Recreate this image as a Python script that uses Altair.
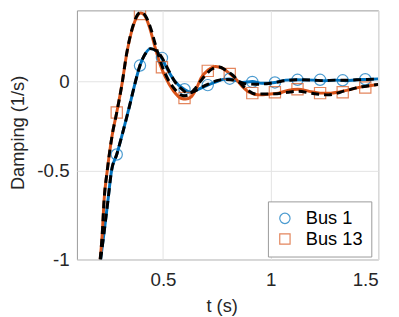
import altair as alt
import pandas as pd

BLUE = "#0072BD"
ORANGE = "#D95319"
FONT = "Liberation Sans"

# Bus 1 (blue) curve
bus1_t = [0.210, 0.226, 0.244, 0.261, 0.285, 0.310, 0.346, 0.370, 0.393, 0.415, 0.442, 0.470,
          0.492, 0.520, 0.550, 0.600, 0.630, 0.660, 0.708, 0.750, 0.780, 0.807, 0.840, 0.870,
          0.915, 0.960, 1.020, 1.070, 1.120, 1.200, 1.250, 1.300, 1.350, 1.400, 1.450, 1.500]
bus1_d = [-1.00, -0.85, -0.67, -0.50, -0.41, -0.30, -0.13, -0.01, 0.09, 0.15, 0.185, 0.17,
          0.135, 0.07, 0.01, -0.045, -0.06, -0.045, -0.02, 0.0, 0.012, 0.015, 0.005, -0.005,
          0.0, -0.01, -0.005, 0.008, 0.01, 0.008, 0.005, 0.008, 0.005, 0.01, 0.012, 0.015]

# Bus 13 (orange) curve
bus13_t = [0.208, 0.218, 0.226, 0.241, 0.264, 0.285, 0.310, 0.330, 0.361, 0.384, 0.397, 0.415,
           0.436, 0.465, 0.488, 0.510, 0.549, 0.586, 0.605, 0.630, 0.655, 0.677, 0.710, 0.744,
           0.775, 0.810, 0.834, 0.870, 0.900, 0.947, 1.000, 1.037, 1.080, 1.127, 1.180, 1.230,
           1.280, 1.320, 1.370, 1.410, 1.450, 1.500]
bus13_d = [-1.00, -0.85, -0.67, -0.50, -0.30, -0.174, -0.01, 0.147, 0.31, 0.375, 0.385, 0.37,
           0.31, 0.185, 0.092, 0.027, -0.053, -0.095, -0.098, -0.087, -0.04, 0.02, 0.065, 0.085,
           0.075, 0.045, 0.02, -0.03, -0.06, -0.075, -0.07, -0.065, -0.05, -0.043, -0.055, -0.065,
           -0.065, -0.058, -0.045, -0.033, -0.025, -0.016]

# Black dashed reference over Bus 1
ref1_t = [0.210, 0.226, 0.244, 0.261, 0.285, 0.310, 0.346, 0.370, 0.393, 0.415, 0.442, 0.470,
          0.495, 0.525, 0.555, 0.590, 0.618, 0.645, 0.675, 0.710, 0.750, 0.785, 0.815, 0.850,
          0.880, 0.930, 0.980, 1.020, 1.070, 1.120, 1.200, 1.250, 1.300, 1.350, 1.400, 1.450, 1.500]
ref1_d = [-1.00, -0.85, -0.67, -0.50, -0.41, -0.30, -0.13, -0.01, 0.09, 0.15, 0.185, 0.172,
          0.135, 0.065, 0.0, -0.045, -0.065, -0.055, -0.035, -0.015, 0.005, 0.012, 0.01, 0.0,
          -0.012, -0.015, -0.012, -0.005, 0.005, 0.01, 0.008, 0.005, 0.008, 0.007, 0.01, 0.012, 0.015]

# Black dashed reference over Bus 13
ref13_t = [0.208, 0.218, 0.226, 0.241, 0.264, 0.285, 0.310, 0.330, 0.361, 0.384, 0.398, 0.417,
           0.440, 0.470, 0.495, 0.520, 0.560, 0.595, 0.618, 0.645, 0.670, 0.700, 0.730, 0.762,
           0.790, 0.825, 0.860, 0.890, 0.933, 0.980, 1.030, 1.080, 1.130, 1.186, 1.230, 1.270,
           1.310, 1.340, 1.370, 1.406, 1.450, 1.500]
ref13_d = [-1.00, -0.85, -0.67, -0.50, -0.30, -0.174, -0.01, 0.15, 0.315, 0.38, 0.39, 0.372,
           0.31, 0.185, 0.09, 0.02, -0.05, -0.08, -0.075, -0.045, -0.005, 0.04, 0.072, 0.082,
           0.065, 0.035, -0.01, -0.045, -0.07, -0.07, -0.068, -0.06, -0.055, -0.065, -0.072, -0.075,
           -0.065, -0.054, -0.045, -0.033, -0.025, -0.016]

# Markers
mk_t = [0.285, 0.393, 0.495, 0.600, 0.708, 0.810, 0.915, 1.020, 1.125, 1.230, 1.335, 1.440]
mk1_d = [-0.41, 0.09, 0.133, -0.043, -0.02, 0.016, -0.002, -0.005, 0.01, 0.01, 0.007, 0.013]
mk13_d = [-0.174, 0.38, 0.08, -0.092, 0.06, 0.043, -0.065, -0.06, -0.043, -0.065, -0.06, -0.033]

series_names = ["Bus 1", "Bus 13"]


def frame(t, d, name):
    return pd.DataFrame({"t": t, "d": d, "series": name})


df_b1 = frame(bus1_t, bus1_d, "Bus 1")
df_b13 = frame(bus13_t, bus13_d, "Bus 13")
df_r1 = frame(ref1_t, ref1_d, "ref 1")
df_r13 = frame(ref13_t, ref13_d, "ref 13")
df_mk = pd.concat([frame(mk_t, mk1_d, "Bus 1"), frame(mk_t, mk13_d, "Bus 13")])

x = alt.X("t:Q", scale=alt.Scale(domain=[0.1, 1.5], nice=False, zero=False),
          axis=alt.Axis(values=[0.5, 1, 1.5], title="t (s)", labelExpr="'' + datum.value",
                        labelPadding=11, titlePadding=8, titleX=147))
y = alt.Y("d:Q", scale=alt.Scale(domain=[-1, 0.4], nice=False, zero=False),
          axis=alt.Axis(values=[-1, -0.5, 0], title="Damping (1/s)", labelExpr="'' + datum.value",
                        labelPadding=8, titleX=-50, titleY=124))

line_b1 = alt.Chart(df_b1).mark_line(color=BLUE, strokeWidth=3, interpolate="monotone", clip=True).encode(x=x, y=y)
line_b13 = alt.Chart(df_b13).mark_line(color=ORANGE, strokeWidth=3, interpolate="monotone", clip=True).encode(x=x, y=y)
line_r1 = alt.Chart(df_r1).mark_line(color="black", strokeWidth=3, strokeDash=[8, 5],
                                     interpolate="monotone", clip=True).encode(x=x, y=y)
line_r13 = alt.Chart(df_r13).mark_line(color="black", strokeWidth=3, strokeDash=[8, 5],
                                       interpolate="monotone", clip=True).encode(x=x, y=y)

pts = alt.Chart(df_mk).mark_point(filled=False, size=130, strokeWidth=1.2, clip=True).encode(
    x=x, y=y,
    color=alt.Color("series:N", scale=alt.Scale(domain=series_names, range=[BLUE, ORANGE]),
                    legend=alt.Legend(title=None)),
    shape=alt.Shape("series:N", scale=alt.Scale(domain=series_names, range=["circle", "square"]),
                    legend=alt.Legend(title=None)),
)

chart = alt.layer(line_b1, line_b13, pts, line_r1, line_r13).properties(
    width=306, height=253, autosize="none",
    padding={"left": 70, "top": 0, "right": 13, "bottom": 56},
).configure_view(
    stroke="#999999", strokeWidth=1
).configure_axis(
    labelFont=FONT, labelFontSize=19, labelColor="#262626",
    titleFont=FONT, titleFontSize=18.5, titleFontWeight="normal", titleColor="#262626",
    grid=True, gridColor="#e3e3e3", gridWidth=1, domain=False, ticks=False,
).configure_legend(
    orient="none", legendX=194, legendY=194,
    labelFont=FONT, labelFontSize=18.5, labelColor="#000000",
    strokeColor="#999999", fillColor="white", padding=8,
    symbolSize=110, symbolStrokeWidth=1.2, labelOffset=12, rowPadding=2,
)

chart.save("out.html", embed_options={"renderer": "svg", "actions": False})
